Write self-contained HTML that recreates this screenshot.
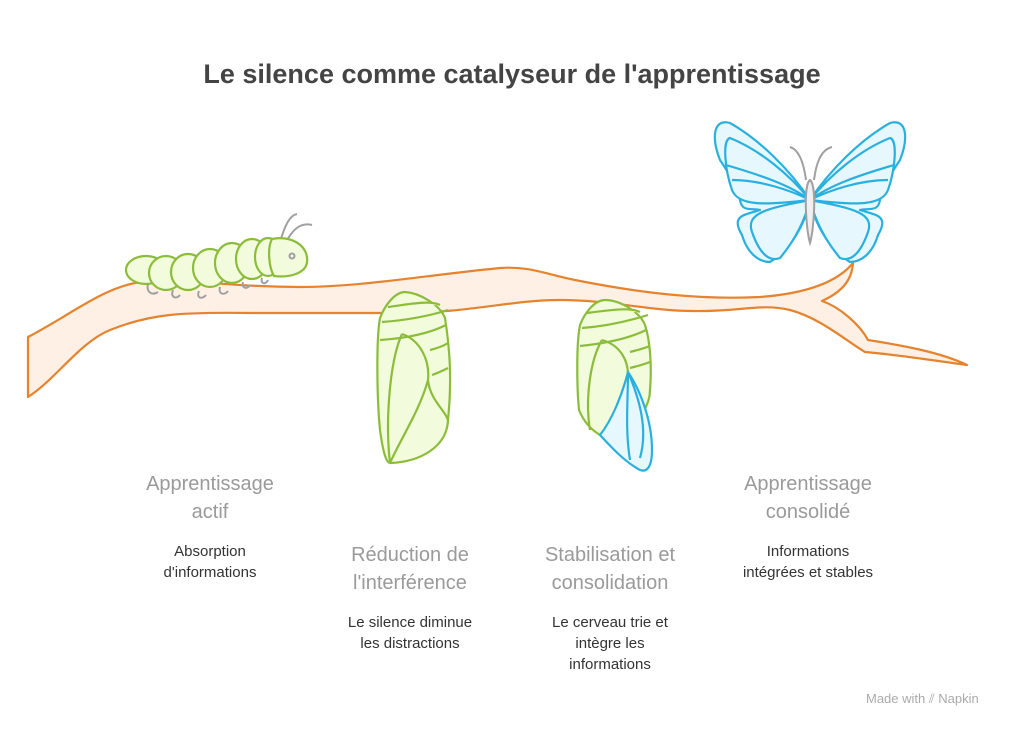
<!DOCTYPE html>
<html><head><meta charset="utf-8"><style>
html,body{margin:0;padding:0;background:#fff;}
body{width:1024px;height:732px;position:relative;overflow:hidden;font-family:"Liberation Sans",sans-serif;}
.t{position:absolute;text-align:center;}
.title{left:0;width:1024px;top:59px;font-size:27px;font-weight:bold;color:#444;}
.lab{font-size:20px;color:#9a9a9a;line-height:28px;}
.desc{font-size:15px;color:#333;line-height:21px;}
</style></head><body>
<svg width="1024" height="732" style="position:absolute;left:0;top:0">
<g stroke="#e5832f" stroke-width="2.2" fill="#fef0e4" stroke-linejoin="round">
<path d="M28,337 C70,315 100,290 135,283 C180,276 220,287 300,287 C360,287 420,276 500,268 C530,266 545,274 575,280 C640,293 700,300 760,297 C800,294 835,285 853,263 C852,280 842,292 822,301 C840,307 860,325 868,340 C900,345 940,352 967,365 C930,360 900,355 865,352 C845,340 820,318 790,310 C760,303 740,312 693,311 C650,311 610,300 560,300 C510,300 470,313 400,313 C330,313 290,313 250,313 C180,312 150,314 110,330 C80,342 55,380 28,397 Z"/>
</g>
<g stroke="#a0a0a0" stroke-width="2" fill="none">
<path d="M148,284 C146,292 152,296 158,292 M173,290 C170,297 176,300 180,295 M199,291 C196,298 202,300 206,295 M220,287 C218,294 224,296 228,291 M243,282 C241,288 247,290 250,285 M262,278 C260,284 266,285 268,280"/>
<path d="M280,242 C285,225 290,215 297,214 M285,244 C292,230 300,222 312,225"/>
</g>
<g stroke="#8cbd3a" stroke-width="2.2" fill="#f2fbdc" stroke-linejoin="round">
<!-- caterpillar -->
<ellipse cx="146" cy="270" rx="20" ry="14"/>
<ellipse cx="166" cy="273" rx="17" ry="17"/>
<ellipse cx="188" cy="272" rx="17" ry="18"/>
<ellipse cx="210" cy="268" rx="17" ry="19"/>
<ellipse cx="232" cy="263" rx="17" ry="20"/>
<ellipse cx="252" cy="259" rx="16" ry="20"/>
<ellipse cx="268" cy="257" rx="13" ry="19"/>
<path d="M272,239 C290,235 309,245 307,262 C306,273 290,278 274,276 C269,268 267,248 272,239 Z"/>
<!-- chrysalis 1 -->
<path d="M405,292 C395,292 385,305 380,318 C376,340 377,400 380,430 C384,460 388,463 390,463 C420,462 447,447 448,420 C452,380 450,350 445,318 C440,305 420,293 405,292 Z"/>
<path d="M388,307 C410,304 430,300 440,305 M382,322 C410,320 432,315 448,310 M380,340 C410,338 430,333 446,325 M402,334 C390,360 385,420 390,463 M402,334 C420,340 430,360 428,380 C430,400 445,410 448,420 M428,380 C420,410 400,440 390,463 M430,350 C438,348 445,345 448,343 M432,375 C438,373 444,370 448,368"/>
<!-- chrysalis 2 -->
<path d="M605,300 C595,300 585,312 580,325 C576,345 577,390 579,410 C585,425 595,432 600,435 L625,430 C640,420 650,405 650,390 C652,365 650,340 645,325 C640,312 620,300 605,300 Z"/>
<path d="M587,313 C610,310 630,307 640,312 M582,328 C610,326 632,320 648,315 M580,346 C610,343 630,338 646,330 M602,340 C590,360 585,400 590,430 M602,340 C620,345 628,360 628,375 C630,385 635,395 640,398 M630,352 C638,350 645,348 650,346 M630,368 C638,366 645,364 650,362"/>
</g>
<circle cx="292" cy="256" r="2.5" stroke="#a0a0a0" stroke-width="2" fill="none"/>
<g stroke="#2ab0de" stroke-width="2.2" fill="#e6f7fe" stroke-linejoin="round">
<path d="M628,372 C640,390 652,420 652,450 C652,470 645,472 640,470 C625,462 612,448 600,435 C612,420 622,395 628,372 Z"/>
<path d="M628,372 C628,400 625,430 630,460 M628,372 C640,400 648,430 640,458"/>
<path d="M810,200 C790,170 760,140 730,123 C712,118 712,140 720,160 C730,175 736,185 740,200 C742,212 750,208 760,210 C745,215 730,215 742,235 C748,255 760,262 770,262 C790,250 805,225 810,200 Z"/>
<path d="M810,200 C830,170 860,140 890,123 C908,118 908,140 900,160 C890,175 884,185 880,200 C878,212 870,208 860,210 C875,215 890,215 878,235 C872,255 860,262 850,262 C830,250 815,225 810,200 Z"/>
<path d="M810,200 C790,175 760,150 730,138 C722,140 725,170 732,190 C738,205 760,206 810,200 C770,208 745,212 752,232 C760,255 770,262 780,258 C795,240 805,220 810,200"/>
<path d="M810,200 C830,175 860,150 890,138 C898,140 895,170 888,190 C882,205 860,206 810,200 C850,208 875,212 868,232 C860,255 850,262 840,258 C825,240 815,220 810,200"/>
<path d="M810,200 C790,185 760,175 726,165 M810,200 C790,190 760,180 732,180 M810,200 C830,185 860,175 894,165 M810,200 C830,190 860,180 888,180"/>
</g>
<g stroke="#a0a0a0" stroke-width="2" fill="none">
<path d="M806,180 C804,165 800,150 790,147 M814,180 C816,165 820,150 832,147"/>
<path d="M810,180 C803,185 806,230 810,243 C814,230 817,185 810,180 Z" fill="#f0f0f0"/>
</g>
</svg>
<div class="t title">Le silence comme catalyseur de l'apprentissage</div>
<div class="t lab" style="left:110px;width:200px;top:470px">Apprentissage<br>actif</div>
<div class="t desc" style="left:110px;width:200px;top:541px">Absorption<br>d'informations</div>
<div class="t lab" style="left:310px;width:200px;top:541px">Réduction de<br>l'interférence</div>
<div class="t desc" style="left:310px;width:200px;top:612px">Le silence diminue<br>les distractions</div>
<div class="t lab" style="left:510px;width:200px;top:541px">Stabilisation et<br>consolidation</div>
<div class="t desc" style="left:510px;width:200px;top:612px">Le cerveau trie et<br>intègre les<br>informations</div>
<div class="t lab" style="left:708px;width:200px;top:470px">Apprentissage<br>consolidé</div>
<div class="t desc" style="left:708px;width:200px;top:541px">Informations<br>intégrées et stables</div>
<div class="t" style="left:866px;top:691px;font-size:13px;color:#aaa;">Made with ⫽ Napkin</div>
</body></html>
